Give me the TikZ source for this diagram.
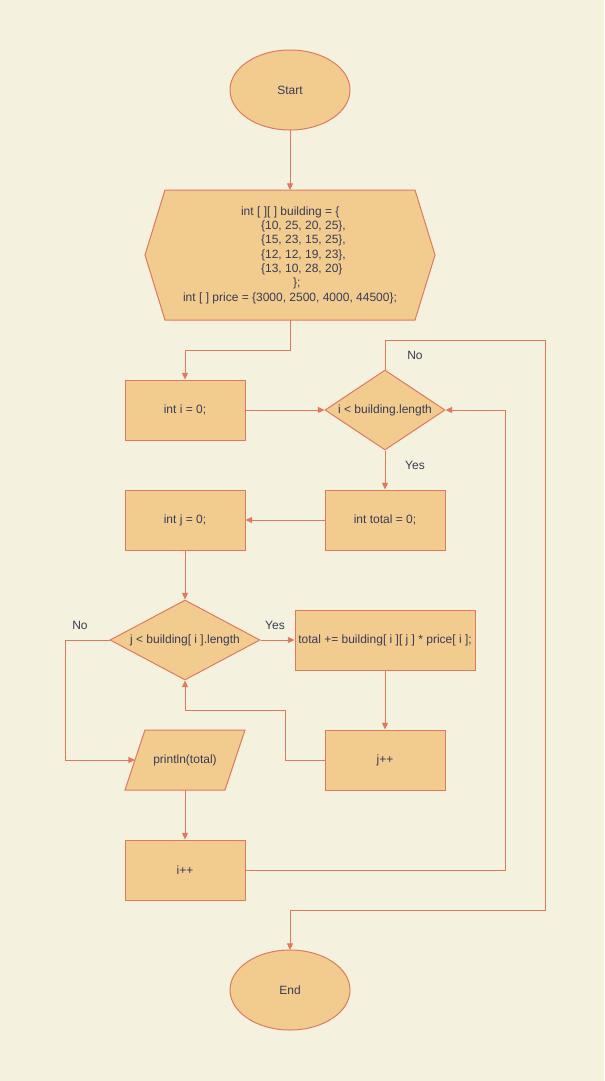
\documentclass[tikz,border=0pt]{standalone}
\usepackage{fontspec}
\setmainfont{Liberation Sans}
\usetikzlibrary{shapes.geometric,arrows.meta}
\definecolor{bg}{HTML}{F4F1DE}
\definecolor{fillc}{HTML}{F2CC8F}
\definecolor{strokec}{HTML}{E07A5F}
\definecolor{txt}{HTML}{393C56}
\begin{document}
\begin{tikzpicture}[x=0.75pt,y=-0.75pt,
  every node/.style={font=\fontsize{9}{10.75}\selectfont, text=txt},
  shp/.style={draw=strokec, fill=fillc, line width=0.75pt},
  conn/.style={draw=strokec, line width=0.75pt, -{Triangle[length=5pt,width=4.5pt]}},
  lbl/.style={font=\fontsize{9}{10.75}\selectfont, text=txt}]
\fill[bg] (0,0) rectangle (604,1081);
\useasboundingbox (0,0) rectangle (604,1081);
% shapes
\draw[shp] (290,90) ellipse [x radius=60, y radius=40];
\node (start) at (290,90) {Start};
\coordinate (startB) at (290,130);
\draw[shp] (165,190) -- (415,190) -- (435,255) -- (415,320) -- (165,320) -- (145,255) -- cycle;
\node[align=left] (hex) at (290,255) {\hspace*{43.5pt}int [ ][ ] building = \{\\
\hspace*{58.5pt}\{10, 25, 20, 25\},\\
\hspace*{58.5pt}\{15, 23, 15, 25\},\\
\hspace*{58.5pt}\{12, 12, 19, 23\},\\
\hspace*{58.5pt}\{13, 10, 28, 20\}\\
\hspace*{82.5pt}\};\\
int [ ] price = \{3000, 2500, 4000, 44500\};};
\coordinate (hexT) at (290,190);
\coordinate (hexB) at (290,320);
\node[shp, minimum width=90pt, minimum height=45pt, inner sep=0pt] (inti) at (185,410) {int i = 0;};
\node[shp, diamond, aspect=1.5, minimum width=90pt, minimum height=60pt, inner sep=0pt] (d1) at (385,410) {i < building.length};
\node[shp, minimum width=90pt, minimum height=45pt, inner sep=0pt] (tot) at (385,520) {int total = 0;};
\node[shp, minimum width=90pt, minimum height=45pt, inner sep=0pt] (intj) at (185,520) {int j = 0;};
\node[shp, diamond, aspect=1.875, minimum width=112.5pt, minimum height=60pt, inner sep=0pt] (d2) at (185,640) {j < building[ i ].length};
\node[shp, minimum width=135pt, minimum height=45pt, inner sep=0pt] (sum) at (385,640) {};
\node at (385,640) {total += building[ i ][ j ] * price[ i ];};
\node[shp, minimum width=90pt, minimum height=45pt, inner sep=0pt] (jpp) at (385,760) {j++};
\draw[shp] (145,730) -- (245,730) -- (225,790) -- (125,790) -- cycle;
\node (prt) at (185,760) {println(total)};
\coordinate (prtL) at (135,760);
\coordinate (prtB) at (185,790);
\node[shp, minimum width=90pt, minimum height=45pt, inner sep=0pt] (ipp) at (185,870) {i++};
\draw[shp] (290,990) ellipse [x radius=60, y radius=40];
\node (end) at (290,990) {End};
\coordinate (endT) at (290,950);
% connectors
\draw[conn] (startB) -- (hexT);
\draw[conn] (hexB) -- (290,350) -- (185,350) -- (inti.north);
\draw[conn] (inti.east) -- (d1.west);
\draw[conn] (d1.south) -- (tot.north);
\node[lbl] at (415,465) {Yes};
\draw[conn] (d1.north) -- (385,340) -- (545,340) -- (545,910) -- (290,910) -- (endT);
\node[lbl] at (415,355) {No};
\draw[conn] (tot.west) -- (intj.east);
\draw[conn] (intj.south) -- (d2.north);
\draw[conn] (d2.east) -- (sum.west);
\node[lbl] at (275,625) {Yes};
\draw[conn] (d2.west) -- (65,640) -- (65,760) -- (prtL);
\node[lbl] at (80,625) {No};
\draw[conn] (sum.south) -- (jpp.north);
\draw[conn] (jpp.west) -- (285,760) -- (285,710) -- (185,710) -- (d2.south);
\draw[conn] (prtB) -- (ipp.north);
\draw[conn] (ipp.east) -- (505,870) -- (505,410) -- (d1.east);
\end{tikzpicture}
\end{document}
